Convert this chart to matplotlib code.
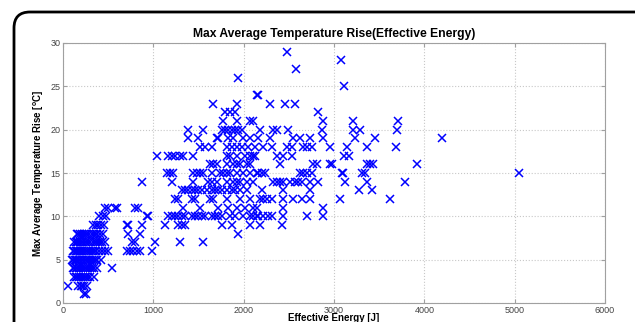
import matplotlib
matplotlib.use("Agg")
import matplotlib.pyplot as plt
from matplotlib.patches import FancyBboxPatch

plt.rcParams["font.family"] = ["Liberation Sans", "DejaVu Sans"]

# energy [J] of each test, grouped by max average temperature rise [degC]
t29 = [2477]
t28 = [3082]
t27 = [2580]
t26 = [1941]
t25 = [3112]
t24 = [2145, 2163]
t23 = [1665, 1930, 2292, 2458, 2569]
t22 = [1794, 1849, 1905, 2827]
t21 = [1775, 1923, 2071, 2108, 2883, 3215, 3713]
t20 = [1388, 1554, 1757, 1794, 1831, 1868, 1905, 1941, 1979, 2182, 2329, 2366,
       2495, 2865, 3208, 3289, 3702]
t19 = [1388, 1498, 1701, 1720, 1831, 1886, 1997, 2071, 2163, 2292, 2551, 2625,
       2735, 2883, 3234, 3455, 4193]
t18 = [1517, 1572, 1646, 1812, 1868, 1923, 1979, 2052, 2126, 2218, 2311, 2477,
       2533, 2661, 2698, 2754, 2957, 3141, 3363, 3688]
t17 = [1037, 1166, 1203, 1240, 1296, 1332, 1443, 1812, 1849, 1923, 2015, 2071,
       2108, 2126, 2366, 2440, 2533, 3112, 3171]
t16 = [1628, 1665, 1701, 1812, 1886, 1923, 1960, 2034, 2071, 2403, 2772, 2809,
       2957, 2975, 3363, 3400, 3437, 3924]
t15 = [1148, 1185, 1222, 1443, 1480, 1517, 1554, 1646, 1739, 1775, 1812, 1849,
       1923, 1997, 2071, 2145, 2163, 2200, 2237, 2625, 2661, 2698, 2754, 3086,
       3104, 3308, 3345, 5046]
t14 = [871, 1203, 1443, 1609, 1646, 1701, 1812, 1886, 1923, 1960, 2034, 2108,
       2329, 2366, 2403, 2440, 2514, 2569, 2606, 2643, 2735, 2827, 3123, 3370, 3787]
t13 = [1314, 1351, 1388, 1425, 1462, 1498, 1535, 1591, 1646, 1683, 1720, 1757,
       1812, 1868, 1905, 1960, 2034, 2200, 2440, 2735, 3281, 3419]
t12 = [1240, 1277, 1425, 1462, 1628, 1665, 1812, 1960, 2071, 2182, 2218, 2255,
       2311, 2440, 2551, 2643, 2735, 3067, 3621]
t11 = [465, 502, 576, 594, 797, 834, 1332, 1517, 1720, 1831, 1923, 2015, 2108,
       2145, 2440, 2883]
t10 = [400, 440, 480, 927, 945, 1166, 1203, 1240, 1277, 1314, 1351, 1425, 1462,
       1498, 1535, 1572, 1646, 1683, 1720, 1757, 1849, 1905, 1997, 2071, 2108,
       2145, 2163, 2218, 2274, 2311, 2440, 2698, 2883]
t09 = [330, 360, 390, 420, 450, 705, 723, 871, 1129, 1277, 1314, 1351, 1757,
       1868, 2071, 2182, 2421]
t08 = [150, 170, 190, 210, 230, 250, 270, 290, 320, 340, 360, 380, 410, 440,
       723, 853, 1941]
t07 = [120, 140, 155, 170, 190, 205, 220, 240, 260, 280, 300, 330, 350, 370,
       390, 410, 430, 460, 760, 797, 1018, 1296, 1554]
t06 = [110, 125, 140, 155, 170, 185, 200, 215, 230, 250, 270, 290, 310, 330,
       350, 370, 400, 430, 460, 500, 705, 742, 779, 816, 853, 982]
t05 = [100, 115, 130, 145, 160, 175, 190, 205, 220, 240, 260, 280, 300, 320,
       340, 360, 380, 420]
t04 = [110, 125, 140, 160, 180, 200, 220, 240, 260, 280, 300, 320, 340, 380, 539]
t03 = [120, 140, 160, 180, 200, 220, 240, 260, 280, 300, 340]
t02 = [59, 170, 195, 215, 235, 270]
t01 = [236, 250]

rows = [t01, t02, t03, t04, t05, t06, t07, t08, t09, t10, t11, t12, t13, t14, t15,
        t16, t17, t18, t19, t20, t21, t22, t23, t24, t25, t26, t27, t28, t29]

energy = []
rise = []
for level, vals in enumerate(rows, start=1):
    energy += vals
    rise += [level] * len(vals)

fig = plt.figure(figsize=(6.35, 3.22), dpi=100)

# rounded frame round the figure, cut off at the right and bottom
frame = FancyBboxPatch((0.14, -1.0), 7.0, 4.10,
                       boxstyle="round,pad=0,rounding_size=0.16",
                       transform=fig.dpi_scale_trans, fill=False,
                       edgecolor="black", linewidth=2)
fig.patches.append(frame)

ax = fig.add_axes([63 / 635, 1 - 303 / 322, 542 / 635, 260 / 322])
ax.plot(energy, rise, "x", color=(0, 0, 1), markersize=6, markeredgewidth=1.1)

ax.set_xlim(0, 6000)
ax.set_ylim(0, 30)
ax.set_xticks(range(0, 6001, 1000))
ax.set_yticks(range(0, 31, 5))
ax.grid(True, linestyle=":", color="#c8c8c8", linewidth=0.8)
for s in ax.spines.values():
    s.set_color("#a0a0a0")
ax.tick_params(direction="in", length=3, labelsize=6.5, colors="#a0a0a0",
               labelcolor="#444444", top=True, right=True, pad=2)

ax.set_title("Max Average Temperature Rise(Effective Energy)", fontsize=8.7,
             fontweight="bold", pad=4)
ax.set_xlabel("Effective Energy [J]", fontsize=7, fontweight="bold", labelpad=-1)
ax.set_ylabel("Max Average Temperature Rise [$\\mathregular{^oC}$]", fontsize=7,
              fontweight="bold", labelpad=3)

fig.savefig("out.png", dpi=100)
